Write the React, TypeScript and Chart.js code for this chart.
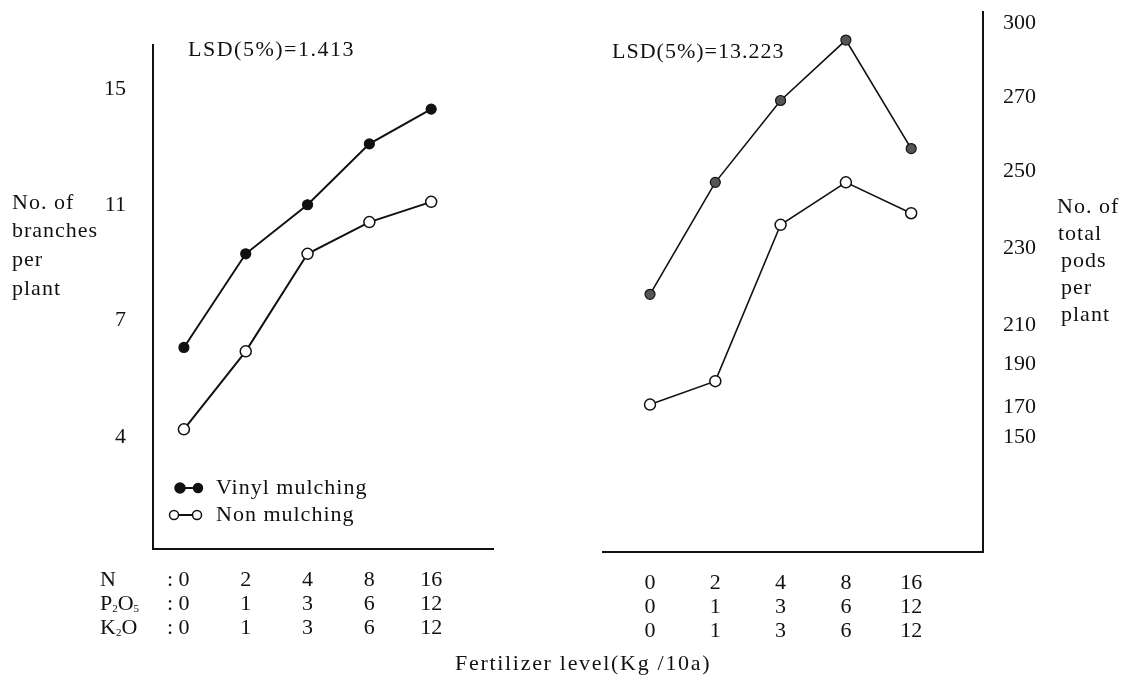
import React, { useEffect, useRef } from "react";
import { Chart, registerables, LinearScale } from "chart.js";

// ---------------- data ----------------
const nLevels = ["0", "2", "4", "8", "16"];
const pLevels = ["0", "1", "3", "6", "12"];
const kLevels = ["0", "1", "3", "6", "12"];

const branchesVinyl = [6.3, 9.3, 11.0, 13.1, 14.3];
const branchesNon = [4.2, 6.2, 9.3, 10.4, 11.1];

const podsVinyl = [218, 247, 269, 293, 256];
const podsNon = [171, 182, 236, 247, 239];

const branchTicks = [4, 7, 11, 15];
const podTicks = [150, 170, 190, 210, 230, 250, 270, 300];

// axis layout of the (non-uniform) printed value axes: fraction of axis height for each tick
const branchTickFractions = [0.222, 0.454, 0.683, 0.913];
const podTickFractions = [0.213, 0.269, 0.348, 0.42, 0.563, 0.706, 0.843, 0.98];

const FONT = "'Liberation Serif', 'Times New Roman', serif";
const INK = "#111";

// piecewise-linear value axis (the printed axes are not evenly scaled)
class PiecewiseScale extends LinearScale {
  static id = "piecewise";
  static defaults = LinearScale.defaults;
  buildTicks() {
    const o: any = this.options;
    return o.tickValues.map((v: number) => ({ value: v }));
  }
  toFraction(value: number) {
    const o: any = this.options;
    const vs: number[] = o.tickValues;
    const ps: number[] = o.tickPositions;
    const n = vs.length;
    let i = 0;
    while (i < n - 2 && value > vs[i + 1]) i++;
    return ps[i] + ((value - vs[i]) * (ps[i + 1] - ps[i])) / (vs[i + 1] - vs[i]);
  }
  getPixelForValue(value: number) {
    return this.getPixelForDecimal(this.toFraction(value));
  }
  getValueForPixel(pixel: number) {
    const o: any = this.options;
    const vs: number[] = o.tickValues;
    const ps: number[] = o.tickPositions;
    const n = vs.length;
    const d = this.getDecimalForPixel(pixel);
    let i = 0;
    while (i < n - 2 && d > ps[i + 1]) i++;
    return vs[i] + ((d - ps[i]) * (vs[i + 1] - vs[i])) / (ps[i + 1] - ps[i]);
  }
}

Chart.register(...registerables, PiecewiseScale as any);
Chart.defaults.font.family = FONT;
Chart.defaults.font.size = 22;
Chart.defaults.color = INK;

function text(
  ctx: CanvasRenderingContext2D,
  s: string,
  x: number,
  y: number,
  align: CanvasTextAlign = "left",
  size = 22,
  spacing = 1
) {
  ctx.save();
  ctx.font = `${size}px ${FONT}`;
  (ctx as any).letterSpacing = spacing + "px";
  ctx.fillStyle = INK;
  ctx.textAlign = align;
  ctx.textBaseline = "middle";
  ctx.fillText(s, x, y);
  ctx.restore();
}

function richText(ctx: CanvasRenderingContext2D, parts: [string, boolean][], x: number, y: number) {
  ctx.save();
  ctx.fillStyle = INK;
  ctx.textBaseline = "middle";
  ctx.textAlign = "left";
  let cx = x;
  for (const [s, sub] of parts) {
    ctx.font = `${sub ? 11 : 22}px ${FONT}`;
    ctx.fillText(s, cx, sub ? y + 5 : y);
    cx += ctx.measureText(s).width;
  }
  ctx.restore();
}

function dot(ctx: CanvasRenderingContext2D, x: number, y: number, r: number, filled: boolean) {
  ctx.save();
  ctx.beginPath();
  ctx.arc(x, y, r, 0, Math.PI * 2);
  ctx.fillStyle = filled ? INK : "#fff";
  ctx.fill();
  ctx.lineWidth = 1.5;
  ctx.strokeStyle = INK;
  ctx.stroke();
  ctx.restore();
}

function line(ctx: CanvasRenderingContext2D, x1: number, y1: number, x2: number, y2: number) {
  ctx.save();
  ctx.beginPath();
  ctx.moveTo(x1, y1);
  ctx.lineTo(x2, y2);
  ctx.lineWidth = 2;
  ctx.strokeStyle = INK;
  ctx.stroke();
  ctx.restore();
}

const leftDecor = {
  id: "leftDecor",
  afterDraw(chart: any) {
    const ctx: CanvasRenderingContext2D = chart.ctx;
    text(ctx, "LSD(5%)=1.413", 188, 50, "left", 22, 1.5);
    ["No. of", "branches", "per", "plant"].forEach((s, i) => text(ctx, s, 12, 203 + i * 28.7));
    // legend
    line(ctx, 180, 488, 198, 488);
    dot(ctx, 180, 488, 5, true);
    dot(ctx, 198, 488, 4.5, true);
    text(ctx, "Vinyl mulching", 216, 488);
    line(ctx, 174, 515, 197, 515);
    dot(ctx, 174, 515, 4.5, false);
    dot(ctx, 197, 515, 4.5, false);
    text(ctx, "Non mulching", 216, 515);
    // fertilizer row headers
    const rowY = [580, 604.2, 628.4];
    text(ctx, "N", 100, rowY[0], "left", 22, 0);
    richText(ctx, [["P", false], ["2", true], ["O", false], ["5", true]], 100, rowY[1]);
    richText(ctx, [["K", false], ["2", true], ["O", false]], 100, rowY[2]);
    rowY.forEach((y) => text(ctx, ":", 167, y, "left", 22, 0));
  },
};

const rightDecor = {
  id: "rightDecor",
  afterDraw(chart: any) {
    const ctx: CanvasRenderingContext2D = chart.ctx;
    text(ctx, "LSD(5%)=13.223", 612, 52);
    text(ctx, "No. of", 1057, 207);
    text(ctx, "total", 1058, 234);
    text(ctx, "pods", 1061, 261);
    text(ctx, "per", 1061, 288);
    text(ctx, "plant", 1061, 315);
    text(ctx, "Fertilizer level(Kg /10a)", 455, 664, "left", 22, 1.7);
  },
};

function xTickLabel(v: number) {
  const i = Math.round(v);
  return [nLevels[i], pLevels[i], kLevels[i]];
}

function makeConfig(side: "left" | "right"): any {
  const isLeft = side === "left";
  const vinyl = isLeft ? branchesVinyl : podsVinyl;
  const non = isLeft ? branchesNon : podsNon;
  const toXY = (arr: number[]) => arr.map((v, i) => ({ x: i, y: v }));
  return {
    type: "line",
    data: {
      datasets: [
        {
          label: "Vinyl mulching",
          data: toXY(vinyl),
          borderColor: INK,
          borderWidth: isLeft ? 2 : 1.6,
          pointRadius: 5,
          pointBackgroundColor: isLeft ? INK : "#555",
          pointBorderColor: INK,
          pointBorderWidth: 1.2,
          tension: 0,
          clip: false,
        },
        {
          label: "Non mulching",
          data: toXY(non),
          borderColor: INK,
          borderWidth: isLeft ? 2 : 1.6,
          pointRadius: 5.5,
          pointBackgroundColor: "#fff",
          pointBorderColor: INK,
          pointBorderWidth: 1.5,
          tension: 0,
          clip: false,
        },
      ],
    },
    options: {
      responsive: false,
      animation: false,
      events: [],
      devicePixelRatio: 1,
      layout: {
        padding: isLeft
          ? { top: 45, right: 1122 - 493, left: 0, bottom: 0 }
          : { top: 12, right: 0, left: 603, bottom: 0 },
      },
      plugins: { legend: { display: false }, tooltip: { enabled: false } },
      scales: {
        x: {
          type: "linear",
          min: isLeft ? -0.5 : -0.72,
          max: isLeft ? 5 : 5.1,
          grid: { display: false, drawTicks: false },
          border: { display: true, color: INK, width: 2 },
          afterBuildTicks: (s: any) => {
            s.ticks = nLevels.map((_, i) => ({ value: i }));
          },
          afterFit: (s: any) => {
            s.height = isLeft ? 679 - 549 : 679 - 552;
            s.paddingLeft = 0;
            s.paddingRight = 0;
          },
          ticks: {
            autoSkip: false,
            maxRotation: 0,
            padding: 19,
            color: INK,
            font: { size: 22, lineHeight: 1.1, family: FONT },
            callback: (v: number) => xTickLabel(v),
          },
        },
        y: {
          type: "piecewise",
          position: isLeft ? "left" : "right",
          min: isLeft ? 1.1 : 70,
          max: isLeft ? 16.5 : 305,
          tickValues: isLeft ? branchTicks : podTicks,
          tickPositions: isLeft ? branchTickFractions : podTickFractions,
          grid: { display: false, drawTicks: false },
          border: { display: true, color: INK, width: 2 },
          afterFit: (s: any) => {
            s.width = isLeft ? 153 : 1122 - 983;
            s.paddingTop = 0;
            s.paddingBottom = 0;
          },
          ticks: {
            padding: isLeft ? 27 : 20,
            color: INK,
            font: { size: 22, family: FONT },
            callback: (v: number) => String(v),
          },
        },
      },
    },
    plugins: [isLeft ? leftDecor : rightDecor],
  };
}

export default function App() {
  const leftRef = useRef<HTMLCanvasElement>(null);
  const rightRef = useRef<HTMLCanvasElement>(null);
  useEffect(() => {
    const c1 = new Chart(leftRef.current!, makeConfig("left"));
    const c2 = new Chart(rightRef.current!, makeConfig("right"));
    return () => {
      c1.destroy();
      c2.destroy();
    };
  }, []);
  return (
    <div style={{ position: "absolute", left: 0, top: 0, width: 1122, height: 679, background: "#fff" }}>
      <canvas ref={leftRef} width={1122} height={679} style={{ position: "absolute", left: 0, top: 0 }} />
      <canvas ref={rightRef} width={1122} height={679} style={{ position: "absolute", left: 0, top: 0 }} />
    </div>
  );
}
